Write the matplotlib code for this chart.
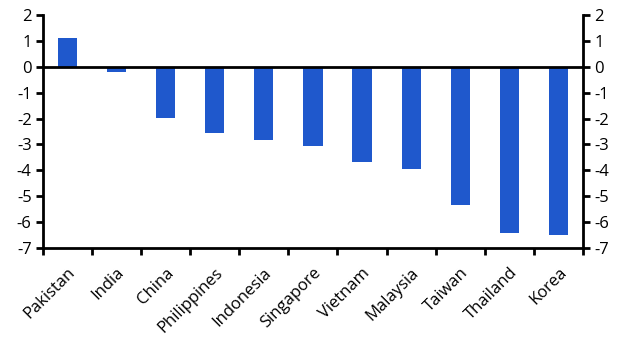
import numpy as np
import matplotlib.pyplot as plt

countries = ['Pakistan', 'India', 'China', 'Philippines', 'Indonesia', 'Singapore',
             'Vietnam', 'Malaysia', 'Taiwan', 'Thailand', 'Korea']
values = [1.11, -0.2, -1.96, -2.54, -2.81, -3.04, -3.66, -3.93, -5.32, -6.40, -6.51]
yticks = list(range(-7, 3))

plt.rcParams['font.family'] = ['Open Sans', 'DejaVu Sans']

fig = plt.figure(figsize=(6.29, 3.54), dpi=100)
ax = fig.add_axes([0.068, 0.299, 0.859, 0.659])

x = np.arange(len(countries))
ax.bar(x, values, width=0.39, color='#1f58cc', zorder=2)
ax.axhline(0, color='black', lw=2, zorder=3)

ax.set_xlim(-0.5, len(countries) - 0.5)
ax.set_ylim(-7, 2)
ax.set_yticks(yticks)
ax.set_yticklabels([str(t) for t in yticks])

ax.set_xticks(x)
ax.set_xticklabels(countries, rotation=45, ha='right', rotation_mode='anchor')
ax.set_xticks(np.arange(-0.5, len(countries)), minor=True)
ax.tick_params(axis='x', which='major', length=0, labelsize=12, pad=12)
ax.tick_params(axis='x', which='minor', length=5, width=2, direction='out')
ax.tick_params(axis='y', length=5, width=2, labelsize=12, direction='out',
               left=True, right=True, labelleft=True, labelright=True, pad=3)

for s in ['left', 'right', 'bottom']:
    ax.spines[s].set_linewidth(2)
ax.spines['top'].set_visible(False)

fig.savefig('out.png', dpi=100)
